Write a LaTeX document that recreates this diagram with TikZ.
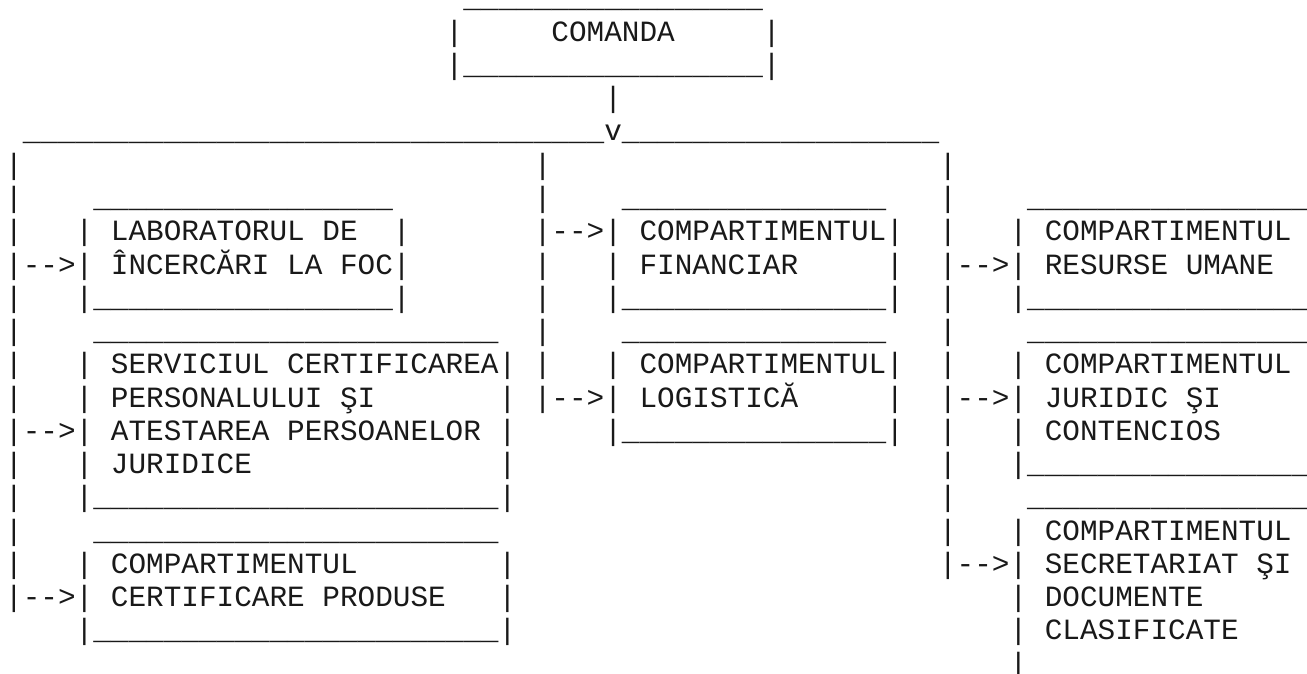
\documentclass[tikz,border=0pt]{standalone}
\usepackage{fontspec}
\newfontfamily\asciifont{Liberation Mono}
\ExplSyntaxOn
\NewDocumentCommand\U{m}{\prg_replicate:nn{#1}{\_}}
\ExplSyntaxOff
\tikzset{asc/.style={anchor=base west, inner sep=0pt, outer sep=0pt, text=black!90,
  font=\fontsize{29.37pt}{33pt}\selectfont\asciifont}}
\newcommand\seg[4]{\node[asc] (#1) at ({5.2pt+#2*17.62pt},{-(#3*33.25pt+8pt)}) {#4};}
\begin{document}
\begin{tikzpicture}
\fill[white] (0,0) rectangle (1307pt,-674pt);
\useasboundingbox (0,0) rectangle (1307pt,-674pt);
% row 0-4: COMANDA
\seg{r0a}{26}{0}{\U{17}}
\seg{r1a}{25}{1}{|}
\seg{r1b}{31}{1}{COMANDA}
\seg{r1c}{43}{1}{|}
\seg{r2a}{25}{2}{|\U{17}|}
\seg{r3a}{34}{3}{|}
\seg{r4a}{1}{4}{\U{33}v\U{18}}
% row 5
\seg{r5a}{0}{5}{|}
\seg{r5b}{30}{5}{|}
\seg{r5c}{53}{5}{|}
% row 6
\seg{r6a}{0}{6}{|}
\seg{r6b}{5}{6}{\U{17}}
\seg{r6c}{30}{6}{|}
\seg{r6d}{35}{6}{\U{15}}
\seg{r6e}{53}{6}{|}
\seg{r6f}{58}{6}{\U{16}}
% row 7
\seg{r7a}{0}{7}{|}
\seg{r7b}{4}{7}{| LABORATORUL DE}
\seg{r7c}{22}{7}{|}
\seg{r7d}{30}{7}{|-{}->| COMPARTIMENTUL|}
\seg{r7e}{53}{7}{|}
\seg{r7f}{57}{7}{| COMPARTIMENTUL}
% row 8
\seg{r8a}{0}{8}{|-{}->| ÎNCERCĂRI LA FOC|}
\seg{r8b}{30}{8}{|}
\seg{r8c}{34}{8}{| FINANCIAR}
\seg{r8d}{50}{8}{|}
\seg{r8e}{53}{8}{|-{}->| RESURSE UMANE}
% row 9
\seg{r9a}{0}{9}{|}
\seg{r9b}{4}{9}{|\U{17}|}
\seg{r9c}{30}{9}{|}
\seg{r9d}{34}{9}{|\U{15}|}
\seg{r9e}{53}{9}{|}
\seg{r9f}{57}{9}{|\U{16}}
% row 10
\seg{r10a}{0}{10}{|}
\seg{r10b}{5}{10}{\U{23}}
\seg{r10c}{30}{10}{|}
\seg{r10d}{35}{10}{\U{15}}
\seg{r10e}{53}{10}{|}
\seg{r10f}{58}{10}{\U{16}}
% row 11
\seg{r11a}{0}{11}{|}
\seg{r11b}{4}{11}{| SERVICIUL CERTIFICAREA|}
\seg{r11c}{30}{11}{|}
\seg{r11d}{34}{11}{| COMPARTIMENTUL|}
\seg{r11e}{53}{11}{|}
\seg{r11f}{57}{11}{| COMPARTIMENTUL}
% row 12
\seg{r12a}{0}{12}{|}
\seg{r12b}{4}{12}{| PERSONALULUI ŞI}
\seg{r12c}{28}{12}{|}
\seg{r12d}{30}{12}{|-{}->| LOGISTICĂ}
\seg{r12e}{50}{12}{|}
\seg{r12f}{53}{12}{|-{}->| JURIDIC ŞI}
% row 13
\seg{r13a}{0}{13}{|-{}->| ATESTAREA PERSOANELOR}
\seg{r13b}{28}{13}{|}
\seg{r13c}{34}{13}{|\U{15}|}
\seg{r13d}{53}{13}{|}
\seg{r13e}{57}{13}{| CONTENCIOS}
% row 14
\seg{r14a}{0}{14}{|}
\seg{r14b}{4}{14}{| JURIDICE}
\seg{r14c}{28}{14}{|}
\seg{r14d}{53}{14}{|}
\seg{r14e}{57}{14}{|\U{16}}
% row 15
\seg{r15a}{0}{15}{|}
\seg{r15b}{4}{15}{|\U{23}|}
\seg{r15c}{53}{15}{|}
\seg{r15d}{58}{15}{\U{16}}
% row 16
\seg{r16a}{0}{16}{|}
\seg{r16b}{5}{16}{\U{23}}
\seg{r16c}{53}{16}{|}
\seg{r16d}{57}{16}{| COMPARTIMENTUL}
% row 17
\seg{r17a}{0}{17}{|}
\seg{r17b}{4}{17}{| COMPARTIMENTUL}
\seg{r17c}{28}{17}{|}
\seg{r17d}{53}{17}{|-{}->| SECRETARIAT ŞI}
% row 18
\seg{r18a}{0}{18}{|-{}->| CERTIFICARE PRODUSE}
\seg{r18b}{28}{18}{|}
\seg{r18c}{57}{18}{| DOCUMENTE}
% row 19
\seg{r19a}{4}{19}{|\U{23}|}
\seg{r19b}{57}{19}{| CLASIFICATE}
% row 20
\seg{r20a}{57}{20}{|}
\end{tikzpicture}
\end{document}
